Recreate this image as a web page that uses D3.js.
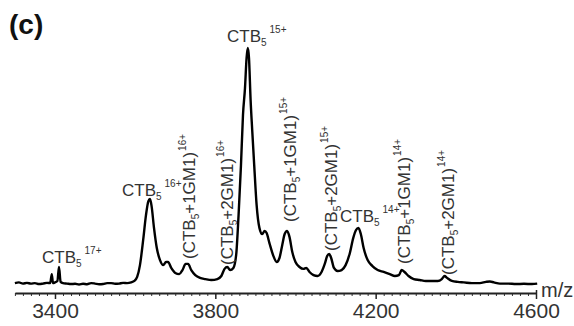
<!DOCTYPE html>
<html>
<head>
<meta charset="utf-8">
<script src="https://cdn.jsdelivr.net/npm/d3@7"></script>
<style>
  html, body { margin: 0; padding: 0; background: #fff; }
  svg { display: block; }
  text { font-family: "Liberation Sans", Arial, Helvetica, sans-serif; }
</style>
</head>
<body>
<svg id="chart" width="574" height="326"></svg>
<script>
// ESI mass spectrum of CTB5 with bound GM1: m/z vs relative intensity (%)
const mz = [
  3300, 3310, 3320, 3330, 3340, 3350, 3360, 3370, 3380, 3388, 3392, 3395, 3400, 3406, 3410, 3414,
  3420, 3430, 3440, 3450, 3460, 3470, 3480, 3490, 3500, 3510, 3520, 3530, 3540, 3550, 3560, 3570,
  3580, 3590, 3598, 3605, 3612, 3620, 3627, 3633, 3637, 3641, 3647, 3654, 3662, 3670, 3677, 3682,
  3690, 3700, 3710, 3718, 3726, 3732, 3740, 3750, 3762, 3775, 3790, 3805, 3815, 3823, 3830, 3837,
  3845, 3852, 3858, 3864, 3869, 3874, 3878, 3881, 3884, 3888, 3892, 3897, 3903, 3910, 3917, 3923,
  3928, 3935, 3945, 3953, 3960, 3967, 3973, 3979, 3985, 3992, 4000, 4010, 4020, 4027, 4035, 4045,
  4055, 4065, 4073, 4079, 4084, 4089, 4096, 4105, 4115, 4125, 4135, 4144, 4151, 4157, 4163, 4170,
  4180, 4192, 4205, 4220, 4235, 4248, 4258, 4265, 4272, 4282, 4295, 4310, 4325, 4340, 4355, 4365,
  4372, 4378, 4390, 4405, 4420, 4440, 4460, 4475, 4485, 4495, 4510, 4530, 4550, 4570, 4590, 4603
];
const intensity = [
  0.8, 1.1, 0.6, 0.9, 0.6, 0.8, 0.4, 0.6, 0.9, 0.8, 4.6, 0.8, 1.1, 1.7, 7.6, 1.3,
  0.8, 0.6, 0.4, 0.5, 0.2, 0.5, 0.3, 0.8, 0.6, 0.3, 0.4, 0.8, 0.8, 0.5, 0.6, 0.9,
  0.8, 1.1, 1.7, 3.4, 8.4, 19.0, 29.5, 35.4, 36.3, 33.3, 24.1, 15.6, 10.5, 8.4, 9.7, 9.7,
  7.2, 5.1, 4.6, 6.3, 8.9, 8.9, 6.3, 4.2, 3.0, 2.5, 2.1, 2.5, 3.8, 6.8, 7.6, 6.3,
  7.2, 12.7, 29.5, 50.6, 71.7, 83.1, 95.8, 100, 95.8, 78.1, 65.4, 50.6, 33.8, 24.1, 21.5, 22.8,
  21.9, 17.7, 12.2, 9.7, 11.4, 16.9, 21.5, 22.8, 20.3, 13.9, 9.7, 7.6, 6.8, 7.2, 5.5, 4.2,
  3.8, 5.5, 8.9, 12.2, 13.1, 11.4, 7.2, 5.9, 6.3, 8.4, 13.1, 19.8, 23.2, 24.1, 21.5, 15.6,
  10.5, 8.0, 6.3, 5.5, 4.6, 3.8, 4.2, 6.3, 5.5, 3.8, 2.5, 2.1, 1.7, 1.7, 1.7, 2.5,
  3.8, 3.0, 1.7, 1.3, 1.1, 0.8, 0.8, 1.3, 1.5, 1.1, 0.6, 0.6, 0.4, 0.5, 0.4, 0.6
];

const majorTicks = [3400, 3800, 4200, 4600];
const minorStep = 20;

// Peak annotations: main text, subscript, charge-state superscript
const hLabels = [
  { main: "CTB", sub: "5", sup: "17+", mz: 3410, x: 42,  y: 263 },
  { main: "CTB", sub: "5", sup: "16+", mz: 3637, x: 122, y: 196 },
  { main: "CTB", sub: "5", sup: "15+", mz: 3881, x: 227, y: 42 },
  { main: "CTB", sub: "5", sup: "14+", mz: 4157, x: 340, y: 222 }
];
const vLabels = [
  { pre: "(CTB", sub: "5", post: "+1GM1)", sup: "16+", x: 195, y: 259 },
  { pre: "(CTB", sub: "5", post: "+2GM1)", sup: "16+", x: 233, y: 265 },
  { pre: "(CTB", sub: "5", post: "+1GM1)", sup: "15+", x: 296, y: 222 },
  { pre: "(CTB", sub: "5", post: "+2GM1)", sup: "15+", x: 337, y: 251 },
  { pre: "(CTB", sub: "5", post: "+1GM1)", sup: "14+", x: 410, y: 264 },
  { pre: "(CTB", sub: "5", post: "+2GM1)", sup: "14+", x: 454, y: 275 }
];

const svg = d3.select("#chart");
const axisY = 293;

const x = d3.scaleLinear().domain([3300, 4600]).range([14.9, 536]);
const y = d3.scaleLinear().domain([0, 100]).range([285, 48]);

const textColor = "#333";

// Spectrum trace
const pts = mz.map((m, i) => [m, intensity[i]]);
svg.append("path")
  .datum(pts)
  .attr("fill", "none")
  .attr("stroke", "#000")
  .attr("stroke-width", 2.4)
  .attr("stroke-linejoin", "round")
  .attr("d", d3.line().x(d => x(d[0])).y(d => y(d[1])).curve(d3.curveMonotoneX));

// Minor ticks
const minorVals = d3.range(3300, 4600 + 1, minorStep).filter(v => !majorTicks.includes(v));
svg.append("g")
  .attr("transform", `translate(0,${axisY})`)
  .call(d3.axisBottom(x).tickValues(minorVals).tickSize(3).tickSizeOuter(0).tickFormat(""))
  .call(g => g.select(".domain").remove())
  .call(g => g.selectAll("line").attr("stroke", "#333").attr("stroke-width", 1));

// Major ticks and axis line
const ax = svg.append("g")
  .attr("transform", `translate(0,${axisY})`)
  .call(d3.axisBottom(x).tickValues(majorTicks).tickSize(6).tickSizeOuter(0).tickPadding(4).tickFormat(d3.format("d")));
ax.select(".domain").attr("stroke", "#222").attr("stroke-width", 1.8);
ax.selectAll(".tick line").attr("stroke", "#222").attr("stroke-width", 1.5);
ax.selectAll(".tick text")
  .attr("fill", textColor)
  .style("font-size", "21px")
  .style("font-family", "'Liberation Sans', Arial, sans-serif");

// End tick rising above the axis at the upper limit
svg.append("g")
  .attr("transform", `translate(0,${axisY})`)
  .call(d3.axisTop(x).tickValues([4600]).tickSize(3).tickFormat(""))
  .call(g => g.select(".domain").remove())
  .call(g => g.selectAll("line").attr("stroke", "#222").attr("stroke-width", 1.5));

// Axis title
svg.append("text")
  .attr("x", 541).attr("y", 297)
  .attr("fill", textColor)
  .style("font-size", "20px")
  .text("m/z");

// Panel letter
svg.append("text")
  .attr("x", 9).attr("y", 34)
  .attr("fill", "#111")
  .style("font-size", "28px")
  .style("font-weight", "bold")
  .text("(c)");

// Horizontal peak labels
hLabels.forEach(l => {
  const t = svg.append("text")
    .attr("x", l.x).attr("y", l.y)
    .attr("fill", textColor)
    .style("font-size", "17px");
  t.append("tspan").text(l.main);
  t.append("tspan").attr("dy", 4).style("font-size", "10px").text(l.sub);
  t.append("tspan").attr("dx", 3).attr("dy", -13).style("font-size", "10px").text(l.sup);
});

// Rotated peak labels for GM1-bound species
vLabels.forEach(l => {
  const t = svg.append("text")
    .attr("transform", `translate(${l.x},${l.y}) rotate(-90)`)
    .attr("fill", textColor)
    .style("font-size", "17px");
  t.append("tspan").text(l.pre);
  t.append("tspan").attr("dy", 4).style("font-size", "10px").text(l.sub);
  t.append("tspan").attr("dy", -4).text(l.post);
  t.append("tspan").attr("dx", 1).attr("dy", -9).style("font-size", "10px").text(l.sup);
});
</script>
</body>
</html>
